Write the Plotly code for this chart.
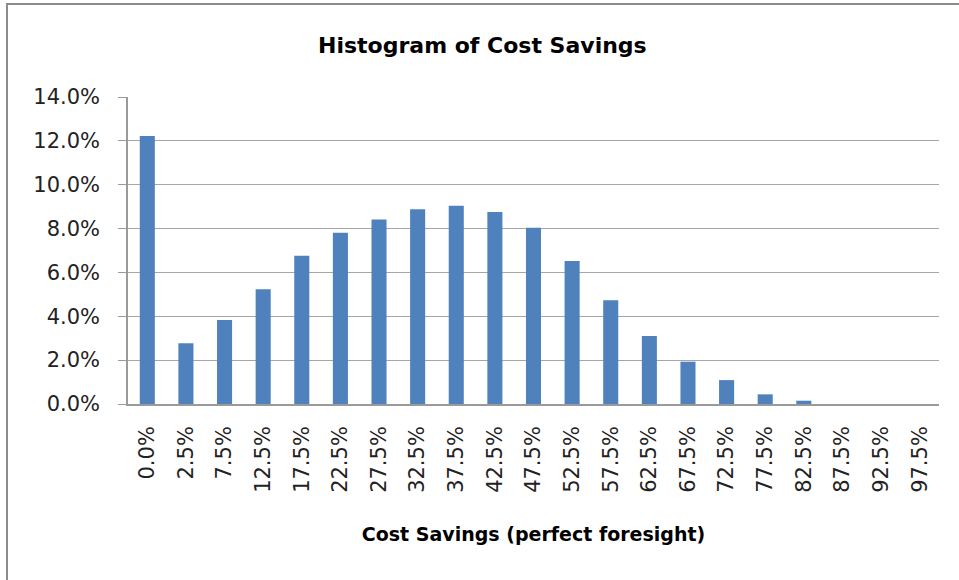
import plotly.graph_objects as go

categories = ["0.0%", "2.5%", "7.5%", "12.5%", "17.5%", "22.5%", "27.5%", "32.5%",
              "37.5%", "42.5%", "47.5%", "52.5%", "57.5%", "62.5%", "67.5%", "72.5%",
              "77.5%", "82.5%", "87.5%", "92.5%", "97.5%"]
frequency = [0.1222, 0.0277, 0.0383, 0.0523, 0.0676, 0.0781, 0.0841, 0.0888,
             0.0904, 0.0876, 0.0804, 0.0652, 0.0473, 0.0310, 0.0193, 0.0109,
             0.0044, 0.0015, 0.0, 0.0, -0.0012]
y_ticks = [0, 0.02, 0.04, 0.06, 0.08, 0.10, 0.12, 0.14]
y_ticklabels = ["0.0%", "2.0%", "4.0%", "6.0%", "8.0%", "10.0%", "12.0%", "14.0%"]

FONT = "DejaVu Sans"
W, H = 959, 580
L, R, T, B = 128, 20, 97, 176
pw, ph = W - L - R, H - T - B

fig = go.Figure(go.Bar(
    x=categories, y=frequency,
    marker=dict(color="#4F81BD", line=dict(width=0)),
    cliponaxis=False, hoverinfo="x+y",
))

fig.update_layout(
    width=W, height=H,
    margin=dict(l=L, r=R, t=T, b=B),
    paper_bgcolor="white", plot_bgcolor="white",
    bargap=0.61,
    showlegend=False,
    title=dict(text="<b>Histogram of Cost Savings</b>", x=0.503, xref="container", xanchor="center",
               y=1 - 45 / H, yref="container", yanchor="middle",
               font=dict(family=FONT, size=22, color="#000000")),
    xaxis=dict(
        type="category", tickangle=-90,
        tickfont=dict(family=FONT, size=21, color="#222222"),
        showgrid=False, showline=True, linecolor="#9a9a9a", linewidth=1.5,
        ticks="", ticklabelstandoff=12,
        title=dict(text="<b>Cost Savings (perfect foresight)</b>", standoff=36,
                   font=dict(family=FONT, size=19, color="#000000")),
        zeroline=False,
    ),
    yaxis=dict(
        range=[0, 0.14], tickvals=y_ticks, ticktext=y_ticklabels,
        tickfont=dict(family=FONT, size=21, color="#222222"),
        showgrid=True, gridcolor="#a6a6a6", gridwidth=1.2,
        showline=True, linecolor="#9a9a9a", linewidth=1.5,
        ticks="outside", ticklen=8, tickcolor="#9a9a9a", tickwidth=1.2,
        ticklabelstandoff=14,
        zeroline=False,
    ),
    shapes=[dict(type="rect", xref="paper", yref="paper",
                 x0=(7 - L) / pw, x1=(W + 10 - L) / pw,
                 y0=(H - B - (H + 10)) / ph, y1=(H - B - 4) / ph,
                 line=dict(color="#8c8c8c", width=2), fillcolor="rgba(0,0,0,0)", layer="below")],
)

fig.write_html("out.html", config={"displayModeBar": False},
               post_script="document.body.style.margin='0';document.body.style.overflow='hidden';")
